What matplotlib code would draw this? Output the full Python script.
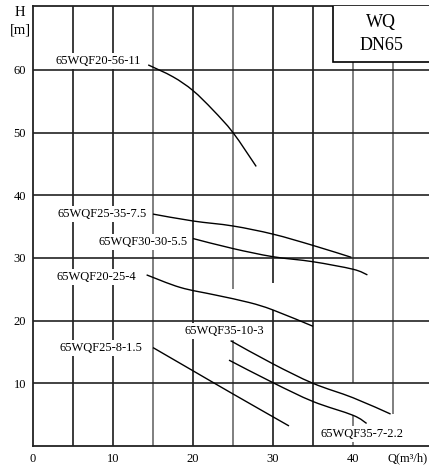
import matplotlib
matplotlib.use("Agg")
import matplotlib.pyplot as plt
from matplotlib.path import Path
from matplotlib.patches import PathPatch

# ---- data (Q in m3/h, H in m) ----
names = ["65WQF20-56-11", "65WQF25-35-7.5", "65WQF30-30-5.5", "65WQF20-25-4",
         "65WQF25-8-1.5", "65WQF35-10-3", "65WQF35-7-2.2"]

q_20_56 = [14.4, 17.5, 20.0, 22.5, 25.0, 27.9]
h_20_56 = [60.8, 58.9, 56.7, 53.6, 50.0, 44.6]

q_25_35 = [15.0, 20.0, 25.0, 30.0, 35.0, 39.8]
h_25_35 = [37.0, 35.9, 35.1, 33.8, 32.0, 30.1]

q_30_30 = [20.0, 25.0, 30.0, 35.0, 40.0, 41.8]
h_30_30 = [33.1, 31.5, 30.2, 29.4, 28.2, 27.3]

q_20_25 = [14.2, 18.4, 22.75, 27.0, 30.0, 35.0]
h_20_25 = [27.3, 25.3, 24.1, 22.9, 21.7, 19.1]

q_25_8 = [15.0, 20.0, 25.0, 32.0]
h_25_8 = [15.7, 12.0, 8.3, 3.2]

q_35_10 = [24.7, 30.0, 35.0, 40.0, 44.7]
h_35_10 = [16.8, 13.1, 10.0, 7.7, 5.1]

q_35_7 = [24.5, 30.0, 35.0, 40.0, 41.7]
h_35_7 = [13.7, 10.1, 7.1, 4.9, 3.6]

curves_q = [q_20_56, q_25_35, q_30_30, q_20_25, q_25_8, q_35_10, q_35_7]
curves_h = [h_20_56, h_25_35, h_30_30, h_20_25, h_25_8, h_35_10, h_35_7]

label_q = [8.1, 8.6, 13.75, 7.9, 8.5, 23.9, 41.1]
label_h = [61.4, 37.0, 32.5, 27.0, 15.6, 18.3, 1.9]

x_ticks = [0, 10, 20, 30, 40]
y_ticks = [10, 20, 30, 40, 50, 60]
x_grid = [5, 10, 15, 20, 25, 30, 35, 40, 45]
x_grid_dark = [True, True, False, True, False, True, True, False, False]
y_grid = [10, 20, 30, 40, 50, 60]
# vertical grid segments (bottom, top) drawn; gaps as in the original drawing
x_grid_spans = {
    25: [(0, 16.9), (25.0, 70.2)],
    30: [(0, 21.7), (26.0, 70.2)],
    40: [(0, 5.0), (10.0, 70.2)],
    45: [(5.1, 70.2)],
}

plt.rcParams['font.family'] = ['Liberation Serif', 'DejaVu Serif']

fig = plt.figure(figsize=(4.29, 4.67), dpi=100)
W, H = 429, 467
x0, y0 = 33, 446
ax = fig.add_axes([x0 / W, (H - y0) / H, (429 - x0) / W, (y0 - 6) / H])
ax.set_xlim(0, 49.5)
ax.set_ylim(0, 70.2)

for g, dark in zip(x_grid, x_grid_dark):
    col = '#1a1a1a' if dark else '#6a6a6a'
    for lo, hi in x_grid_spans.get(g, [(0, 70.2)]):
        ax.plot([g, g], [lo, hi], color=col, lw=1.2, zorder=1, solid_capstyle='butt')
for g in y_grid:
    ax.axhline(g, color='#222222', lw=1.2, zorder=1)


def smooth_path(xs, ys):
    pts = list(zip(xs, ys))
    verts = [pts[0]]
    codes = [Path.MOVETO]
    n = len(pts)
    for i in range(n - 1):
        p0 = pts[i - 1] if i > 0 else pts[i]
        p1 = pts[i]
        p2 = pts[i + 1]
        p3 = pts[i + 2] if i + 2 < n else pts[i + 1]
        c1 = (p1[0] + (p2[0] - p0[0]) / 6.0, p1[1] + (p2[1] - p0[1]) / 6.0)
        c2 = (p2[0] - (p3[0] - p1[0]) / 6.0, p2[1] - (p3[1] - p1[1]) / 6.0)
        verts += [c1, c2, p2]
        codes += [Path.CURVE4, Path.CURVE4, Path.CURVE4]
    return Path(verts, codes)


for q, h in zip(curves_q, curves_h):
    ax.add_patch(PathPatch(smooth_path(q, h), facecolor='none',
                           edgecolor='black', lw=1.0, zorder=3))

for n, lq, lh in zip(names, label_q, label_h):
    ax.text(lq, lh, n, ha='center', va='center', fontsize=9, zorder=4,
            bbox=dict(facecolor='white', edgecolor='none', pad=1.5))

ax.set_xticks(x_ticks)
ax.set_yticks(y_ticks)
ax.tick_params(length=0, labelsize=9, pad=5)
for s in ['left', 'bottom', 'top']:
    ax.spines[s].set_linewidth(1.3)
    ax.spines[s].set_color('#222222')
ax.spines['right'].set_visible(False)

ax.text(44.35, -1.9, 'Q(m³/h)', ha='left', va='center', fontsize=9, clip_on=False)

fig.text(20 / W, 1 - 13 / H, 'H', ha='center', va='center', fontsize=10.5)
fig.text(20 / W, 1 - 30 / H, '[m]', ha='center', va='center', fontsize=10.5)

# WQ DN65 box
bx0 = (333 - x0) / 8.0
ax.add_patch(plt.Rectangle((bx0, 61.2), 60, 20, facecolor='white',
                           edgecolor='black', lw=1.2, zorder=5, clip_on=True))
ax.text((bx0 + 49.5) / 2, 67.6, 'WQ', ha='center', va='center', fontsize=13, zorder=6)
ax.text((bx0 + 49.5) / 2, 63.9, 'DN65', ha='center', va='center', fontsize=13, zorder=6)

fig.savefig('out.png', dpi=100)
